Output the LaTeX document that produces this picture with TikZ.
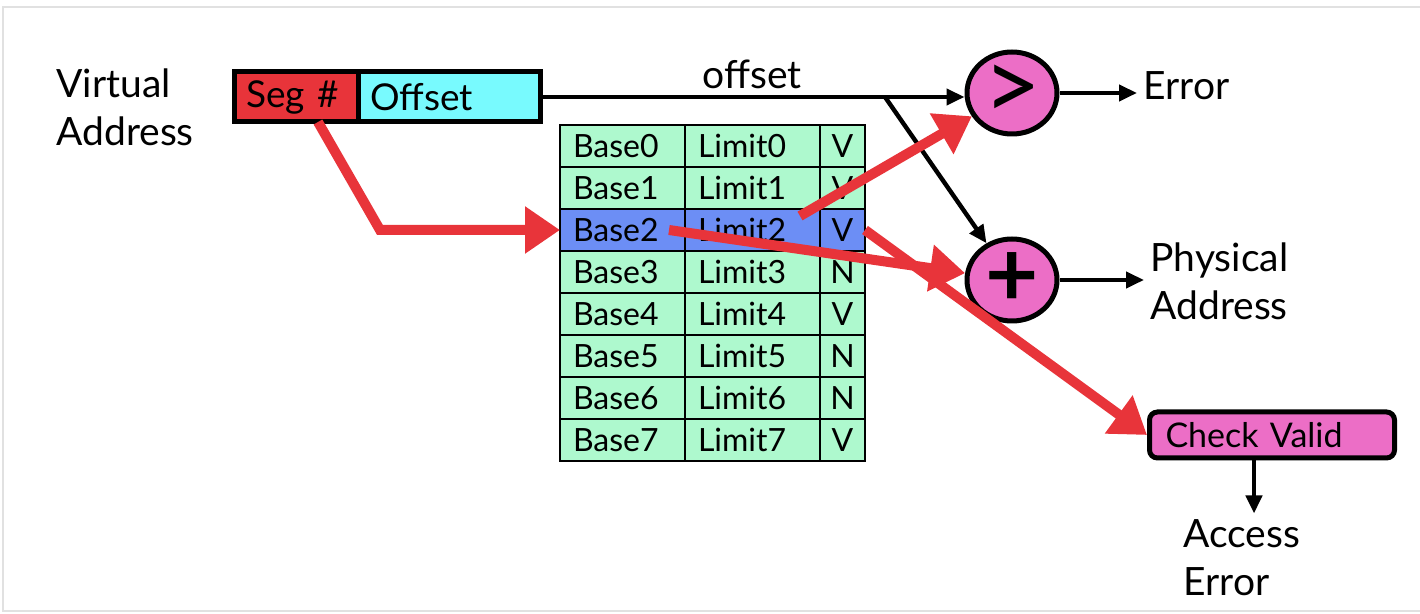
\documentclass[tikz,border=0pt]{standalone}
\usepackage{fontspec}
\setmainfont{Lato}
\usetikzlibrary{arrows.meta,shapes.geometric,positioning}

\definecolor{segred}{RGB}{232,52,58}
\definecolor{offcyan}{RGB}{120,250,254}
\definecolor{opmag}{RGB}{236,110,198}
\definecolor{tgreen}{RGB}{174,249,206}
\definecolor{tblue}{RGB}{108,142,245}
\definecolor{framegray}{RGB}{225,225,225}

\tikzset{
  field/.style={draw,line width=2.5pt,outer sep=0pt,minimum height=25pt,inner xsep=6pt,align=left,font=\fontsize{18.5}{22}\selectfont},
  cell/.style={draw,line width=1pt,outer sep=0pt,minimum height=21pt,inner xsep=6.5pt,align=left,font=\fontsize{16}{18}\selectfont},
  op/.style={ellipse,draw,line width=2.5pt,fill=opmag,minimum width=45pt,minimum height=41pt,inner sep=0pt},
  lbl/.style={align=left,inner sep=3pt,font=\fontsize{19.5}{24}\selectfont},
  blk/.style={-{Triangle[length=9pt,width=8pt]},line width=2.2pt},
  redarr/.style={-{Triangle[length=17.5pt,width=22.5pt]},line width=5pt,draw=segred}
}

\begin{document}
\begin{tikzpicture}[x=0.5pt,y=-0.5pt]
\useasboundingbox (0,0) rectangle (1420,614);
\draw[framegray,line width=1pt] (1420,7) -- (3,7) -- (3,611) -- (1420,611);

\node[lbl,anchor=west] (VA) at (50,107) {Virtual\\Address};
\node[field,fill=segred,text width=50pt] (Seg) at (296,97) {Seg \#};
\node[field,fill=offcyan,text width=79pt,right=0pt of Seg] (Off) {Offset};

% segment table
\foreach \v/\fc [count=\n from 0] in {V/tgreen,V/tgreen,V/tblue,N/tgreen,V/tgreen,N/tgreen,N/tgreen,V/tgreen}
{
  \node[cell,fill=\fc,text width=49.5pt] (Base\n) at ({622.5},{146+42*\n}) {Base\n};
  \node[cell,fill=\fc,text width=54.5pt,right=0pt of Base\n] (Lim\n) {Limit\n};
  \node[cell,fill=\fc,minimum width=22.5pt,inner xsep=0pt,align=center,right=0pt of Lim\n] (Val\n) {\v};
}

\node[op,font=\fontsize{50}{50}\selectfont] (Gt) at (1012,93) {>};
\node[op,font=\fontsize{46}{46}\selectfont\bfseries] (Add) at (1012,280) {+};
\node[lbl,anchor=west] (Err) at (1137,86) {Error};
\node[lbl,anchor=west] (Phys) at (1144,281) {Physical\\Address};
\node[draw,line width=2.5pt,rounded corners=4pt,fill=opmag,minimum height=23pt,text width=106.5pt,inner xsep=8pt,align=left,font=\fontsize{17}{20}\selectfont] (Chk) at (1272,435) {Check Valid};
\node[lbl,anchor=west] (Acc) at (1177,558) {Access\\Error};

\coordinate (br) at (885,97);
\coordinate (bend) at (380,230);

\draw[blk] (Off.east) -- node[lbl,above]{offset} (Off.east -| Gt.west);
\draw[blk] (br) -- (Add);
\draw[blk] (Gt.east) -- (Gt.east -| Err.west);
\draw[blk] (Add.east) -- (Add.east -| Phys.west);
\draw[blk] ([xshift=-9pt]Chk.south) -- ([xshift=-9pt]Chk.south |- Acc.north);

\draw[redarr] ([xshift=-20pt]Seg.south east) -- (bend) -- (Base2.west);
\draw[redarr] ([xshift=-10pt,yshift=7pt]Lim2.east) -- (Gt);
\draw[redarr] ([xshift=-8pt]Base2.east) -- (Add);
\draw[redarr] (Val2.east) -- (Chk.west);
\end{tikzpicture}
\end{document}
